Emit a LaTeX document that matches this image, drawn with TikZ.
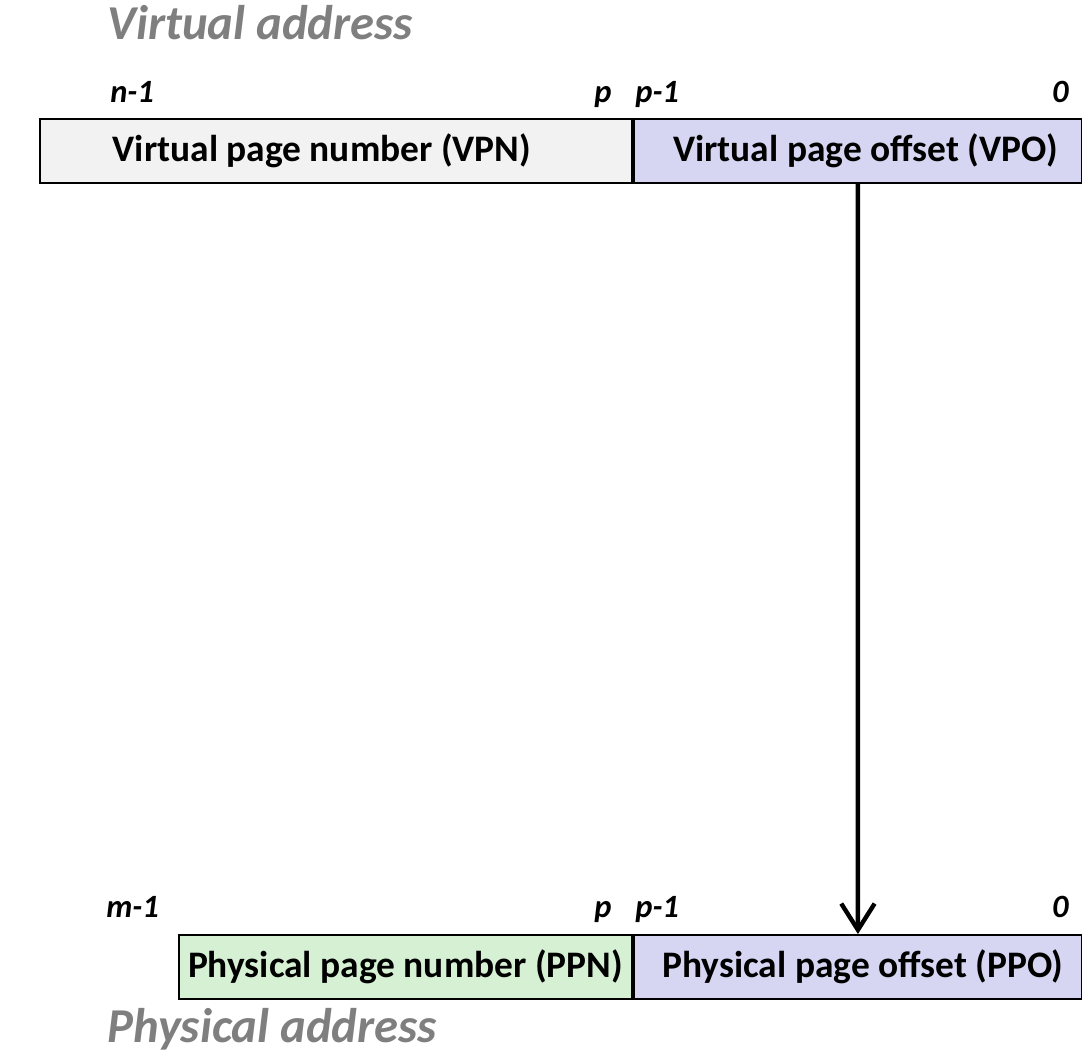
\documentclass[tikz,border=0pt]{standalone}
\usepackage{fontspec}
\setmainfont{Carlito}
\usepackage{tikz}
\usetikzlibrary{arrows.meta,positioning}
\definecolor{vpngray}{HTML}{F2F2F2}
\definecolor{offblue}{HTML}{D6D6F2}
\definecolor{ppngreen}{HTML}{D5F0D3}
\definecolor{titlegray}{HTML}{7F7F7F}
\tikzset{
  field/.style={draw=black, line width=1.1pt, minimum height=1.28cm, inner sep=0pt,
    font=\fontsize{21.3}{25}\selectfont\bfseries},
  bitlbl/.style={inner sep=0pt, font=\fontsize{18.5}{22}\selectfont\bfseries\itshape},
  heading/.style={inner sep=0pt, text=titlegray, font=\fontsize{27.7}{32}\selectfont\bfseries\itshape},
  xlate/.style={line width=2.5pt, -{Straight Barb[length=15pt,width=19pt]}}
}
\begin{document}
\begin{tikzpicture}
		%%%%% START %%%%%
		\useasboundingbox (0, 0) rectangle (21.64, 21.26);
		
		\node[heading, anchor=base west] (vtitle) at (2.14, 20.46) {Virtual address};
		
		\node[field, fill=vpngray, minimum width=11.84cm] (vpn) at (6.72, 18.24) {\hspace*{-0.56cm}Virtual page number (VPN)};
		\node[field, fill=offblue, minimum width=8.96cm, right=0pt of vpn] (vpo) {\hspace*{0.3cm}Virtual page offset (VPO)};
		
		\node[bitlbl, anchor=base west] (vn) at (2.2, 19.2) {n-1};
		\node[bitlbl, anchor=base east] (vp) at (12.24, 19.2) {p};
		\node[bitlbl, anchor=base west] (vpm) at (12.7, 19.2) {p-1};
		\node[bitlbl, anchor=base east] (vz) at (21.38, 19.2) {0};
		
		\node[field, fill=ppngreen, minimum width=9.06cm] (ppn) at (8.11, 1.92) {Physical page number (PPN)};
		\node[field, fill=offblue, minimum width=8.96cm, right=0pt of ppn] (ppo) {\hspace*{0.2cm}Physical page offset (PPO)};
		
		\node[bitlbl, anchor=base west] (pm) at (2.12, 2.92) {m-1};
		\node[bitlbl, anchor=base east] (pp) at (12.24, 2.92) {p};
		\node[bitlbl, anchor=base west] (ppm) at (12.7, 2.92) {p-1};
		\node[bitlbl, anchor=base east] (pz) at (21.38, 2.92) {0};
		
		\node[heading, anchor=base west] (ptitle) at (2.14, 0.42) {Physical address};
		
		\draw[xlate] (vpo.south) -- (ppo.north);
		%%%%% END %%%%%
\end{tikzpicture}
\end{document}
